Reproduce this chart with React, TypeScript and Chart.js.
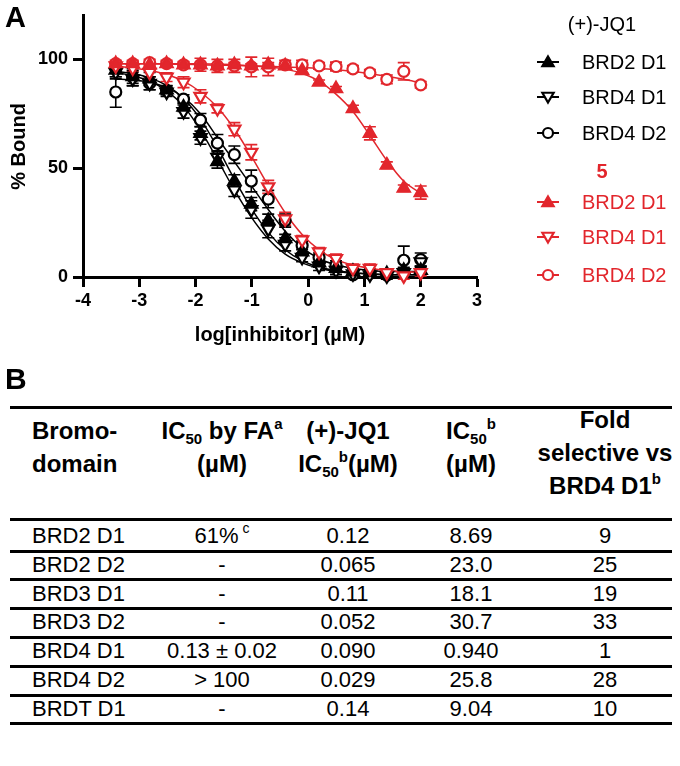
import React, { useEffect, useRef } from 'react';
import { Chart, registerables } from 'chart.js';

Chart.register(...registerables);

const FONT = '"Liberation Sans", Arial, Helvetica, sans-serif';
const BLACK = '#000000';
const RED = '#e2262c';

// ---------- Panel A data ----------
// log10[inhibitor] (µM), 2-fold dilution series from 100 µM
const logConc = [-3.418, -3.117, -2.816, -2.515, -2.214, -1.913, -1.612, -1.311, -1.01, -0.709, -0.408, -0.107, 0.194, 0.495, 0.796, 1.097, 1.398, 1.699, 2.0];
const xTicks = [-4, -3, -2, -1, 0, 1, 2, 3];
const yTicks = [0, 50, 100];

// (+)-JQ1 measured % bound and SD
const jq1Brd2D1 = [95, 92, 91, 86, 78, 66, 53, 44, 33.5, 25.9, 17.6, 11.5, 6.5, 4, 2.5, 2, 1.5, 3, 3];
const jq1Brd2D1Err = [3, 3, 3, 2, 2, 3, 3, 3, 3, 3, 2, 2, 2, 2, 1.5, 1.5, 1.5, 1.5, 1.5];
const jq1Brd4D1 = [94, 91, 89, 85, 76, 64, 55, 40, 31, 22, 15, 9, 5, 3, 1.5, 1, 0.5, 2, 7];
const jq1Brd4D1Err = [3, 3, 3, 2, 3, 3, 3, 3, 4, 4, 3, 2, 2, 2, 1.5, 1.5, 1.5, 2, 2];
const jq1Brd4D2 = [85, 91.8, 89, 85.8, 81.7, 72.1, 61.5, 56.2, 44.1, 35.8, 25.9, 14.5, 9, 5.5, 1, 1.7, 0.9, 7.7, 8];
const jq1Brd4D2Err = [7, 4, 3, 2, 2, 3, 4, 4, 5, 4, 3, 2, 2, 2, 1.5, 2, 1.5, 6.5, 3];

// compound 5 measured % bound and SD
const cpdBrd2D1 = [98, 98, 97.5, 98, 97.5, 97.5, 97, 97.5, 97, 97.5, 97, 94.8, 89.5, 86.5, 77.4, 66, 51.4, 40.8, 38.8];
const cpdBrd2D1Err = [1, 1, 1, 1, 1, 1, 1, 1, 1, 1, 1, 1, 1, 1, 1.5, 3, 1.5, 1.5, 3];
const cpdBrd4D1 = [97, 96, 94, 91.8, 89.5, 83, 77.4, 67.9, 57.3, 41.4, 26.7, 17.1, 11.5, 8.5, 4, 4, 2, 0.5, 2];
const cpdBrd4D1Err = [1.5, 1.5, 2, 2, 2.5, 3, 2, 3, 3.5, 3, 3, 2, 2, 2, 2, 2, 1.5, 1.5, 1.5];
const cpdBrd4D2 = [98, 98, 98.5, 98, 97.5, 97.5, 97, 97, 96.5, 96.5, 97.5, 97.5, 97, 96.7, 95.6, 93.8, 90.8, 94.5, 88.3];
const cpdBrd4D2Err = [1.5, 1.5, 1.5, 1.5, 1.5, 3, 3, 3, 4.5, 4, 2, 2, 1.5, 2, 1.5, 1.5, 2, 4, 1.5];

// fitted curves at the same x positions
const jq1Brd2D1Fit = [94.5, 93.5, 91.5, 88, 82, 72.5, 59.5, 45, 31.5, 20.5, 12.5, 7.5, 4.5, 3, 2, 1.5, 1.2, 1, 1];
const jq1Brd4D1Fit = [94, 92.5, 90, 85.5, 78.5, 67.5, 54, 40, 27.5, 17.5, 10.5, 6.5, 4, 2.5, 1.8, 1.3, 1, 1, 1];
const jq1Brd4D2Fit = [91, 90.5, 89.5, 87, 82.5, 75, 64, 53, 42, 31, 21, 13.5, 8.5, 5.5, 4, 3, 2.5, 2.5, 2.5];
const cpdBrd2D1Fit = [98, 98, 98, 98, 98, 98, 97.8, 97.5, 97, 96.5, 95.5, 93.5, 90, 84, 76, 65, 53.5, 44, 38.5];
const cpdBrd4D1Fit = [97, 96, 95, 93, 90, 85, 78, 68, 55.5, 42, 29.5, 19.5, 12.5, 8, 5.5, 4, 3, 2.5, 2];
const cpdBrd4D2Fit = [98, 98, 98, 97.8, 97.7, 97.5, 97.3, 97.2, 97, 96.8, 96.5, 96.2, 95.8, 95.2, 94.4, 93.4, 92.2, 90.8, 89.2];

const seriesNames = ['BRD2 D1', 'BRD4 D1', 'BRD4 D2'];
const groupTitles = ['(+)-JQ1', '5'];

// ---------- Panel B data ----------
const tableDomains = ['BRD2 D1', 'BRD2 D2', 'BRD3 D1', 'BRD3 D2', 'BRD4 D1', 'BRD4 D2', 'BRDT D1'];
const faIC50 = ['61%', '-', '-', '-', '0.13 ± 0.02', '> 100', '-'];
const faNotes = ['c', '', '', '', '', '', ''];
const jq1IC50 = ['0.12', '0.065', '0.11', '0.052', '0.090', '0.029', '0.14'];
const cpdIC50 = ['8.69', '23.0', '18.1', '30.7', '0.940', '25.8', '9.04'];
const foldSel = ['9', '25', '19', '33', '1', '28', '10'];

type Kind = 'triangle' | 'invTriangle' | 'circle';
interface Series {
  label: string;
  group: number;
  color: string;
  kind: Kind;
  filled: boolean;
  values: number[];
  errors: number[];
  fit: number[];
}

const kinds: Kind[] = ['triangle', 'invTriangle', 'circle'];
const filledKinds = [true, false, false];

const jq1Values = [jq1Brd2D1, jq1Brd4D1, jq1Brd4D2];
const jq1Errors = [jq1Brd2D1Err, jq1Brd4D1Err, jq1Brd4D2Err];
const jq1Fits = [jq1Brd2D1Fit, jq1Brd4D1Fit, jq1Brd4D2Fit];
const cpdValues = [cpdBrd2D1, cpdBrd4D1, cpdBrd4D2];
const cpdErrors = [cpdBrd2D1Err, cpdBrd4D1Err, cpdBrd4D2Err];
const cpdFits = [cpdBrd2D1Fit, cpdBrd4D1Fit, cpdBrd4D2Fit];

const series: Series[] = [
  ...seriesNames.map((label, i) => ({ label, group: 0, color: BLACK, kind: kinds[i], filled: filledKinds[i], values: jq1Values[i], errors: jq1Errors[i], fit: jq1Fits[i] })),
  ...seriesNames.map((label, i) => ({ label, group: 1, color: RED, kind: kinds[i], filled: filledKinds[i], values: cpdValues[i], errors: cpdErrors[i], fit: cpdFits[i] })),
];

// ---------- layout constants ----------
const CANVAS_W = 680;
const CANVAS_H = 350;

const LEG = {
  lineX0: 537,
  lineX1: 559,
  textX: 582,
  titleX: 602,
  titleY: [25, 172],
  rowY: [[62, 97, 133], [202, 237, 275]],
};

function drawMarker(ctx: CanvasRenderingContext2D, kind: Kind, x: number, y: number, r: number, color: string, filled: boolean) {
  ctx.beginPath();
  if (kind === 'circle') {
    ctx.arc(x, y, r, 0, Math.PI * 2);
  } else {
    const d = kind === 'triangle' ? 1 : -1;
    ctx.moveTo(x, y - d * r);
    ctx.lineTo(x + r * 0.866, y + d * r * 0.5);
    ctx.lineTo(x - r * 0.866, y + d * r * 0.5);
    ctx.closePath();
  }
  ctx.fillStyle = filled ? color : '#ffffff';
  ctx.fill();
  ctx.lineWidth = 2.2;
  ctx.strokeStyle = color;
  ctx.stroke();
}

const errorBarPlugin = {
  id: 'errorBars',
  beforeDatasetsDraw(chart: any) {
    const ctx: CanvasRenderingContext2D = chart.ctx;
    const yScale = chart.scales.y;
    chart.data.datasets.forEach((ds: any, i: number) => {
      if (!ds.errors) return;
      const meta = chart.getDatasetMeta(i);
      ctx.save();
      ctx.strokeStyle = ds.borderColor;
      ctx.lineWidth = 1.6;
      meta.data.forEach((pt: any, j: number) => {
        const e = ds.errors[j];
        if (!e) return;
        const v = ds.data[j].y;
        const top = yScale.getPixelForValue(v + e);
        const bot = yScale.getPixelForValue(v - e);
        ctx.beginPath();
        ctx.moveTo(pt.x, top);
        ctx.lineTo(pt.x, bot);
        ctx.moveTo(pt.x - 6, top);
        ctx.lineTo(pt.x + 6, top);
        ctx.moveTo(pt.x - 6, bot);
        ctx.lineTo(pt.x + 6, bot);
        ctx.stroke();
      });
      ctx.restore();
    });
  },
};

const legendPlugin = {
  id: 'customLegend',
  afterDraw(chart: any) {
    const ctx: CanvasRenderingContext2D = chart.ctx;
    ctx.save();
    ctx.textBaseline = 'middle';
    groupTitles.forEach((title, g) => {
      const color = g === 0 ? BLACK : RED;
      ctx.fillStyle = color;
      ctx.textAlign = 'center';
      ctx.font = `${g === 0 ? 'normal' : 'bold'} 20px ${FONT}`;
      ctx.fillText(title, LEG.titleX, LEG.titleY[g]);
      series.filter((s) => s.group === g).forEach((s, k) => {
        const y = LEG.rowY[g][k];
        ctx.beginPath();
        ctx.strokeStyle = s.color;
        ctx.lineWidth = 2;
        ctx.moveTo(LEG.lineX0, y);
        ctx.lineTo(LEG.lineX1, y);
        ctx.stroke();
        drawMarker(ctx, s.kind, (LEG.lineX0 + LEG.lineX1) / 2, y + (s.kind === 'circle' ? 0 : s.kind === 'triangle' ? 1 : -1), s.kind === 'circle' ? 5 : 6.5, s.color, s.filled);
        ctx.fillStyle = s.color;
        ctx.textAlign = 'left';
        ctx.font = `normal 20px ${FONT}`;
        ctx.fillText(s.label, LEG.textX, y + 1);
      });
    });
    ctx.restore();
  },
};

function BindingChart() {
  const ref = useRef<HTMLCanvasElement | null>(null);
  useEffect(() => {
    if (!ref.current) return;
    // points: red on top (lower index drawn last), then black, then fitted lines underneath
    const ordered = [...series.filter((s) => s.group === 1), ...series.filter((s) => s.group === 0)];
    const pointSets = ordered.map((s) => ({
      label: s.label,
      data: logConc.map((x, j) => ({ x, y: s.values[j] })),
      errors: s.errors,
      showLine: false,
      borderColor: s.color,
      backgroundColor: s.filled ? s.color : '#ffffff',
      pointStyle: s.kind === 'circle' ? 'circle' : 'triangle',
      rotation: s.kind === 'invTriangle' ? 180 : 0,
      pointRadius: s.kind === 'circle' ? 5.5 : 7,
      pointBorderWidth: 2.2,
      clip: false,
    }));
    const fitSets = ordered.map((s) => ({
      label: s.label + ' fit',
      data: logConc.map((x, j) => ({ x, y: s.fit[j] })),
      showLine: true,
      borderColor: s.color,
      borderWidth: 1.5,
      pointRadius: 0,
      cubicInterpolationMode: 'monotone',
      clip: false,
    }));
    const tickFont = { family: FONT, size: 18, weight: 'bold' as const };
    const titleFont = { family: FONT, size: 20, weight: 'bold' as const };
    const chart = new Chart(ref.current, {
      type: 'scatter',
      data: { datasets: [...pointSets, ...fitSets] as any },
      options: {
        responsive: false,
        animation: false,
        devicePixelRatio: 1,
        layout: { padding: { top: 13, right: CANVAS_W - 477, left: 0, bottom: 0 } },
        plugins: { legend: { display: false }, tooltip: { enabled: false } },
        scales: {
          x: {
            type: 'linear',
            min: -4,
            max: 3,
            afterBuildTicks: (s: any) => { s.ticks = xTicks.map((v) => ({ value: v })); },
            afterFit: (s: any) => { s.height = CANVAS_H - 277; },
            grid: { drawOnChartArea: false, drawTicks: true, tickLength: 10, tickWidth: 3, tickColor: BLACK },
            border: { display: true, width: 3, color: BLACK },
            ticks: { color: BLACK, font: tickFont, padding: 3, maxRotation: 0, autoSkip: false },
            title: { display: true, text: 'log[inhibitor] (µM)', color: BLACK, font: titleFont, padding: 3 },
          },
          y: {
            type: 'linear',
            min: 0,
            max: 120,
            afterBuildTicks: (s: any) => { s.ticks = yTicks.map((v) => ({ value: v })); },
            afterFit: (s: any) => { s.width = 83; },
            grid: { drawOnChartArea: false, drawTicks: true, tickLength: 10, tickWidth: 3, tickColor: BLACK },
            border: { display: true, width: 3, color: BLACK },
            ticks: { color: BLACK, font: tickFont, padding: 5, autoSkip: false },
            title: { display: true, text: '% Bound', color: BLACK, font: titleFont, padding: { top: 7, bottom: 0 } },
          },
        },
      } as any,
      plugins: [errorBarPlugin, legendPlugin],
    });
    return () => chart.destroy();
  }, []);
  return <canvas ref={ref} width={CANVAS_W} height={CANVAS_H} style={{ position: 'absolute', left: 0, top: 0, width: CANVAS_W, height: CANVAS_H }} />;
}

// ---------- table layout ----------
const TBL_LEFT = 10;
const TBL_RIGHT = 672;
const COL1_X = 32;
const COL_CENTERS = [222, 348, 471, 605];
const HEADER_FONT = 24;
const HEADER_LINE_H = 33;
const HEADER_TOP_2 = 414;
const HEADER_TOP_3 = 403;
const TOP_LINE_Y = 406;
const HEADER_LINE_Y = 518;
const ROW_FONT = 22;
const ROW_CENTER0 = 536;
const ROW_STEP = 28.8;

const subStyle: React.CSSProperties = { fontSize: 15, verticalAlign: -5, lineHeight: 0 };
const supStyle: React.CSSProperties = { fontSize: 15, verticalAlign: 10, lineHeight: 0 };

function HLine({ y, h }: { y: number; h: number }) {
  return <div style={{ position: 'absolute', left: TBL_LEFT, width: TBL_RIGHT - TBL_LEFT, top: y, height: h, background: BLACK }} />;
}

function HeaderCell({ x, top, lines, align }: { x: number; top: number; lines: React.ReactNode[]; align: 'left' | 'center' }) {
  return (
    <div style={{
      position: 'absolute', left: x, top, whiteSpace: 'nowrap',
      transform: align === 'center' ? 'translateX(-50%)' : undefined,
      textAlign: align, fontWeight: 'bold', fontSize: HEADER_FONT, lineHeight: `${HEADER_LINE_H}px`,
    }}>
      {lines.map((l, i) => <div key={i}>{l}</div>)}
    </div>
  );
}

function Cell({ x, cy, children, align }: { x: number; cy: number; children: React.ReactNode; align: 'left' | 'center' }) {
  return (
    <div style={{
      position: 'absolute', left: x, top: cy - 13, height: 26, lineHeight: '26px', fontSize: ROW_FONT, whiteSpace: 'nowrap',
      transform: align === 'center' ? 'translateX(-50%)' : undefined,
    }}>{children}</div>
  );
}

function SelectivityTable() {
  const rowLines = tableDomains.map((_, i) => ROW_CENTER0 + i * ROW_STEP + 13.5);
  return (
    <>
      <HLine y={TOP_LINE_Y} h={3} />
      <HeaderCell x={COL1_X} top={HEADER_TOP_2} align="left" lines={['Bromo-', 'domain']} />
      <HeaderCell x={COL_CENTERS[0]} top={HEADER_TOP_2} align="center" lines={[
        <span>IC<span style={subStyle}>50</span> by FA<span style={supStyle}>a</span></span>, '(µM)']} />
      <HeaderCell x={COL_CENTERS[1]} top={HEADER_TOP_2} align="center" lines={[
        '(+)-JQ1', <span>IC<span style={subStyle}>50</span><span style={supStyle}>b</span>(µM)</span>]} />
      <HeaderCell x={COL_CENTERS[2]} top={HEADER_TOP_2} align="center" lines={[
        <span>IC<span style={subStyle}>50</span><span style={supStyle}>b</span></span>, '(µM)']} />
      <HeaderCell x={COL_CENTERS[3]} top={HEADER_TOP_3} align="center" lines={[
        'Fold', 'selective vs', <span>BRD4 D1<span style={supStyle}>b</span></span>]} />
      <HLine y={HEADER_LINE_Y} h={3} />
      {tableDomains.map((d, i) => {
        const cy = ROW_CENTER0 + i * ROW_STEP;
        return (
          <React.Fragment key={d}>
            <Cell x={COL1_X} cy={cy} align="left">{d}</Cell>
            <Cell x={COL_CENTERS[0]} cy={cy} align="center">
              {faIC50[i]}{faNotes[i] ? <span style={{ ...supStyle, fontSize: 14 }}> {faNotes[i]}</span> : null}
            </Cell>
            <Cell x={COL_CENTERS[1]} cy={cy} align="center">{jq1IC50[i]}</Cell>
            <Cell x={COL_CENTERS[2]} cy={cy} align="center">{cpdIC50[i]}</Cell>
            <Cell x={COL_CENTERS[3]} cy={cy} align="center">{foldSel[i]}</Cell>
            <HLine y={rowLines[i]} h={3} />
          </React.Fragment>
        );
      })}
    </>
  );
}

export default function App() {
  return (
    <div style={{ position: 'absolute', left: 0, top: 0, width: 680, height: 766, background: '#ffffff', fontFamily: FONT, color: BLACK, overflow: 'hidden' }}>
      <BindingChart />
      <div style={{ position: 'absolute', left: 5, top: 3, fontSize: 29, fontWeight: 'bold', lineHeight: '29px' }}>A</div>
      <div style={{ position: 'absolute', left: 5, top: 364, fontSize: 30, fontWeight: 'bold', lineHeight: '30px' }}>B</div>
      <SelectivityTable />
    </div>
  );
}
